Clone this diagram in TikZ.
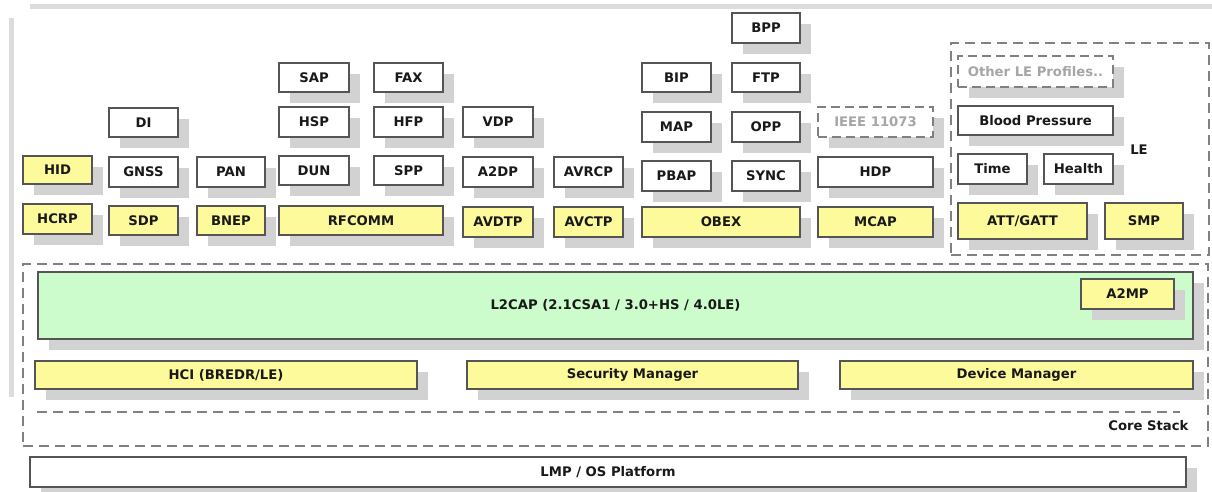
\documentclass[tikz,border=0pt]{standalone}
\usepackage{fontspec}
\setmainfont{DejaVu Sans}
\usetikzlibrary{shadows}
\definecolor{yelfill}{HTML}{FDFA9C}
\definecolor{grnfill}{HTML}{CCFCCC}
\definecolor{shad}{HTML}{D2D2D2}
\definecolor{edge}{HTML}{555555}
\definecolor{dashc}{HTML}{808080}
\definecolor{frame}{HTML}{DCDCDC}
\tikzset{
  lbl/.style={font=\bfseries\fontsize{13.2}{15}\selectfont, text=black!90},
  base/.style={lbl, draw=edge, line width=1.3pt, inner sep=0pt,
    drop shadow={shadow xshift=11pt, shadow yshift=-11pt, fill=shad, opacity=1}},
  wbox/.style={base, fill=white},
  ybox/.style={base, fill=yelfill},
  gbox/.style={base, fill=grnfill},
  dbox/.style={base, fill=white, draw=dashc, line width=1.3pt, dash pattern=on 9pt off 5pt, text=black!35},
  region/.style={draw=dashc, line width=1.3pt, dash pattern=on 10pt off 6pt},
  framebar/.style={draw=frame, line width=5pt}
}
\newcommand\bk[7]{\node[#1, minimum width={(#5-#3)*1pt}, minimum height={(#6-#4)*1pt}] (#2) at ({(#3+#5)/2},{(#4+#6)/2}) {#7};}
\begin{document}
\begin{tikzpicture}[x=1pt,y=-1pt]
\useasboundingbox (0,0) rectangle (1212,492);
% faint frame remnants
\coordinate (ft1) at (30,7); \coordinate (ft2) at (1212,7);
\coordinate (fl1) at (11,18); \coordinate (fl2) at (11,397);
\draw[framebar] (ft1) -- (ft2);
\draw[framebar] (fl1) -- (fl2);
% regions
\node[region, minimum width=258pt, minimum height=212pt, inner sep=0pt] (leregion) at (1080,149) {};
\node[lbl, anchor=center] (lelbl) at (1139,150) {LE};
\node[region, minimum width=1185pt, minimum height=182pt, inner sep=0pt] (core) at (615.5,355) {};
% row BPP
\bk{wbox}{bpp}{732}{13}{800}{43}{BPP}
% row 2
\bk{wbox}{sap}{279}{63}{349}{92}{SAP}
\bk{wbox}{fax}{374}{63}{443}{92}{FAX}
\bk{wbox}{bip}{642}{63}{711}{92}{BIP}
\bk{wbox}{ftp}{732}{63}{800}{92}{FTP}
\bk{dbox}{otherle}{958}{56}{1113}{87}{Other LE Profiles..}
% row 3
\bk{wbox}{di}{109}{108}{178}{137}{DI}
\bk{wbox}{hsp}{279}{107}{349}{137}{HSP}
\bk{wbox}{hfp}{374}{107}{443}{137}{HFP}
\bk{wbox}{vdp}{463}{107}{533}{137}{VDP}
\bk{wbox}{map}{642}{112}{711}{142}{MAP}
\bk{wbox}{opp}{732}{112}{800}{142}{OPP}
\bk{dbox}{ieee}{818}{107}{933}{137}{IEEE 11073}
\bk{wbox}{blood}{958}{106}{1113}{135}{Blood Pressure}
% row 4
\bk{ybox}{hid}{23}{156}{92}{184}{HID}
\bk{wbox}{gnss}{109}{157}{178}{187}{GNSS}
\bk{wbox}{pan}{197}{157}{265}{187}{PAN}
\bk{wbox}{dun}{279}{156}{349}{185}{DUN}
\bk{wbox}{spp}{374}{156}{443}{185}{SPP}
\bk{wbox}{atdp}{463}{157}{533}{187}{A2DP}
\bk{wbox}{avrcp}{554}{157}{623}{187}{AVRCP}
\bk{wbox}{pbap}{642}{161}{711}{191}{PBAP}
\bk{wbox}{sync}{732}{161}{800}{191}{SYNC}
\bk{wbox}{hdp}{818}{157}{933}{187}{HDP}
\bk{wbox}{time}{958}{154}{1027}{184}{Time}
\bk{wbox}{health}{1044}{154}{1113}{184}{Health}
% row 5
\bk{ybox}{hcrp}{23}{204}{92}{234}{HCRP}
\bk{ybox}{sdp}{109}{206}{178}{235}{SDP}
\bk{ybox}{bnep}{197}{206}{265}{235}{BNEP}
\bk{ybox}{rfcomm}{279}{206}{443}{235}{RFCOMM}
\bk{ybox}{avdtp}{463}{207}{533}{237}{AVDTP}
\bk{ybox}{avctp}{554}{207}{623}{237}{AVCTP}
\bk{ybox}{obex}{642}{207}{800}{237}{OBEX}
\bk{ybox}{mcap}{818}{207}{933}{237}{MCAP}
\bk{ybox}{att}{958}{203}{1087}{239}{ATT/GATT}
\bk{ybox}{smp}{1105}{203}{1183}{239}{SMP}
% core stack
\bk{gbox}{l2cap}{38}{272}{1193}{339}{L2CAP (2.1CSA1 / 3.0+HS / 4.0LE)}
\bk{ybox}{a2mp}{1081}{279}{1174}{309}{A2MP}
\bk{ybox}{hci}{35}{361}{417}{389}{HCI (BREDR/LE)}
\bk{ybox}{secm}{467}{361}{798}{389}{Security Manager}
\bk{ybox}{devm}{840}{361}{1193}{389}{Device Manager}
\coordinate (sep1) at (37,412); \coordinate (sep2) at (1180,412);
\draw[region] (sep1) -- (sep2);
\node[lbl, anchor=east] (corelbl) at (1192,426) {Core Stack};
\bk{wbox}{lmp}{30}{457}{1186}{487}{LMP / OS Platform}
\end{tikzpicture}
\end{document}
